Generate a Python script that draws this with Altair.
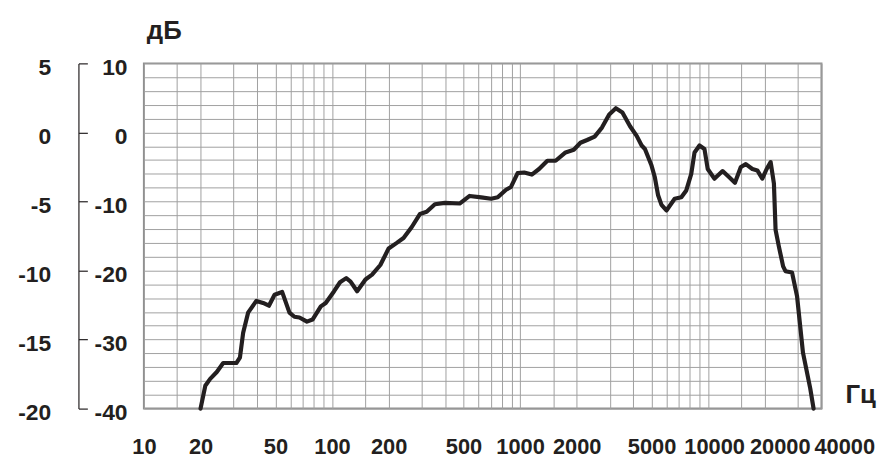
import altair as alt
import pandas as pd

# Frequency response
freq = [20, 21.2, 22.5, 24.4, 26.4, 31, 32.4, 33.7, 35.8, 39.6, 43, 46.2, 49.5, 54.3,
        59.4, 63.1, 67.1, 73.6, 78.8, 87.2, 92.6, 102.6, 110.3, 119, 125.5, 136, 150.6,
        163.3, 180.7, 200, 221, 240, 265.5, 293.7, 318.6, 352.4, 398, 477, 539, 621,
        701.5, 760.6, 841.6, 894.3, 970, 1051, 1154, 1261, 1396, 1545, 1744, 1929, 2093,
        2270, 2490, 2723, 2976, 3228, 3498, 3841, 4166, 4427, 4609, 4997, 5203, 5415,
        5645, 5996, 6632, 7194, 7644, 8125, 8457, 8985, 9550, 9940, 10782, 11925, 12937,
        13871, 14910, 15845, 17167, 18243, 19391, 20450, 21471, 22350, 22810, 23740,
        25020, 25750, 27910, 29660, 31900, 34880, 36320]
db = [-40, -36.7, -35.7, -34.7, -33.4, -33.4, -32.6, -29.0, -26.1, -24.4, -24.7, -25.1,
      -23.5, -23.1, -26.1, -26.7, -26.8, -27.4, -27.1, -25.2, -24.7, -23.0, -21.7, -21.1,
      -21.6, -23.0, -21.3, -20.6, -19.2, -16.8, -16.0, -15.3, -13.7, -11.8, -11.5, -10.4,
      -10.2, -10.3, -9.2, -9.4, -9.6, -9.4, -8.3, -7.9, -5.9, -5.8, -6.1, -5.3, -4.1, -4.1,
      -2.9, -2.5, -1.5, -1.1, -0.6, 0.7, 2.6, 3.5, 2.9, 0.9, -0.5, -1.9, -2.4, -4.8, -6.5,
      -9.1, -10.5, -11.3, -9.6, -9.4, -8.4, -6.0, -2.9, -1.9, -2.4, -5.3, -6.7, -5.6, -6.5,
      -7.3, -5.0, -4.6, -5.3, -5.5, -6.7, -5.3, -4.3, -7.4, -14.1, -16.5, -19.4, -20.1,
      -20.3, -23.7, -31.9, -37.1, -40]

# Axes
x_grid = [10, 15, 20, 30, 40, 50, 60, 70, 80, 90,
          100, 150, 200, 300, 400, 500, 600, 700, 800, 900,
          1000, 1500, 2000, 3000, 4000, 5000, 6000, 7000, 8000, 9000,
          10000, 15000, 20000, 30000, 40000]
x_labels = [10, 20, 50, 100, 200, 500, 1000, 2000, 5000]
# the last labels are spread out to the right of their grid lines in the original
x_labels_shifted = [10000, 20000, 40000]
x_label_shift = [6, 15, 23]
y_inner = list(range(-40, 11, 2))
y_outer = [5, 0, -5, -10, -15, -20]

FONT = "Liberation Sans, Arial, sans-serif"
INK = "#231f20"
GRID = "#a0a0a0"
FS = 23
FSX = 22

df = pd.DataFrame({"freq": freq, "db": db})
df_outer = pd.DataFrame({"outer": y_outer})

lab_expr = "indexof(" + str(x_labels) + ", datum.value) >= 0 ? '' + datum.value : ''"

XSCALE = alt.Scale(type="log", domain=[10, 40000], nice=False)

line = alt.Chart(df).mark_line(color=INK, strokeWidth=4.2, strokeJoin="round", strokeCap="round").encode(
    x=alt.X("freq:Q", scale=XSCALE,
            axis=alt.Axis(orient="bottom", values=x_grid, labelExpr=lab_expr,
                          grid=True, gridColor=GRID, gridWidth=1,
                          domain=False, ticks=False, tickSize=0, labelPadding=28,
                          labelFont=FONT, labelFontSize=FSX, labelFontWeight="bold",
                          labelColor=INK, labelOverlap=False, labelFlush=False,
                          title="Гц", titleFont=FONT, titleFontSize=26,
                          titleFontWeight="bold", titleColor=INK, titleX=722, titleY=-14,
                          titleAlign="center", titleBaseline="middle", titleAngle=0)),
    y=alt.Y("db:Q",
            scale=alt.Scale(domain=[-40, 10], nice=False, zero=False),
            axis=alt.Axis(orient="left", values=y_inner,
                          labelExpr="datum.value % 10 == 0 ? '' + datum.value : ''",
                          grid=True, gridColor=GRID, gridWidth=1,
                          domain=False, ticks=False, tickSize=0, labelPadding=17,
                          labelOffset=4, labelFont=FONT, labelFontSize=FS,
                          labelFontWeight="bold", labelColor=INK, labelOverlap=False,
                          labelFlush=False,
                          title="дБ", titleFont=FONT, titleFontSize=26,
                          titleFontWeight="bold", titleColor=INK, titleX=20, titleY=-33,
                          titleAlign="center", titleBaseline="middle", titleAngle=0)),
)

extra_x = []
for val, shift in zip(x_labels_shifted, x_label_shift):
    extra_x.append(
        alt.Chart(pd.DataFrame({"lab": [val]})).mark_point(opacity=0).encode(
            x=alt.X("lab:Q", scale=XSCALE,
                    axis=alt.Axis(orient="bottom", values=[val], format="d",
                                  grid=False, domain=False, ticks=False, tickSize=0,
                                  labelPadding=28, labelOffset=shift,
                                  labelFont=FONT, labelFontSize=FSX,
                                  labelFontWeight="bold", labelColor=INK,
                                  labelOverlap=False, labelFlush=False, title=None)),
        )
    )

outer_labels = alt.Chart(df_outer).mark_point(opacity=0).encode(
    y=alt.Y("outer:Q",
            scale=alt.Scale(domain=[-20, 5], nice=False, zero=False),
            axis=alt.Axis(orient="left", offset=94, values=y_outer,
                          labelExpr="'' + datum.value",
                          grid=False, domain=False, ticks=False, tickSize=0,
                          labelPadding=0, labelOffset=4, labelFont=FONT,
                          labelFontSize=FS, labelFontWeight="bold", labelColor=INK,
                          labelOverlap=False, labelFlush=False, title=None)),
)

outer_bracket = alt.Chart(df_outer).mark_point(opacity=0).encode(
    y=alt.Y("outer:Q",
            scale=alt.Scale(domain=[-20, 5], nice=False, zero=False),
            axis=alt.Axis(orient="right", offset=-749, values=y_outer, labels=False,
                          grid=False, domain=True, domainColor=INK, domainWidth=1.2,
                          ticks=True, tickSize=9, tickColor=INK, tickWidth=1.2,
                          title=None)),
)

chart = alt.layer(line, outer_labels, outer_bracket, *extra_x).resolve_scale(
    y="independent"
).resolve_axis(
    x="independent"
).properties(
    width=683,
    height=348,
    padding={"left": 137, "top": 54, "right": 58, "bottom": 52},
    autosize=alt.AutoSizeParams(type="none"),
    background="white",
).configure_view(
    stroke="#8f8f8f",
    strokeWidth=2,
)

chart.save("out.html", embed_options={"renderer": "svg", "actions": False})
